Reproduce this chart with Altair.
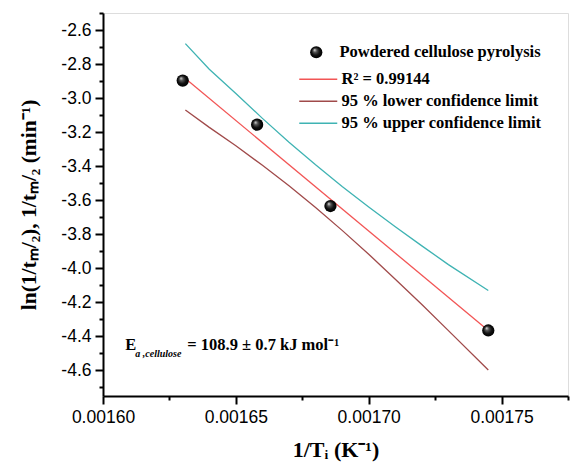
import altair as alt
import pandas as pd

# ---- data ----
pt_x = [0.001630, 0.001658, 0.0016856, 0.001745]
pt_y = [-2.897, -3.156, -3.634, -4.365]

fit_x = [0.001631, 0.001745]
fit_y = [-2.885, -4.365]

band_x = [0.001631, 0.00164, 0.00165, 0.00166, 0.00167, 0.00168, 0.00169,
          0.00170, 0.00171, 0.00172, 0.00173, 0.001745]
upper_y = [-2.680, -2.830, -2.973, -3.119, -3.259, -3.392, -3.519,
           -3.640, -3.756, -3.868, -3.978, -4.130]
lower_y = [-3.070, -3.172, -3.280, -3.395, -3.515, -3.643, -3.777,
           -3.917, -4.064, -4.213, -4.366, -4.597]

series_pts = "Powdered cellulose pyrolysis"
series_lines = ["R² = 0.99144", "95 % lower confidence limit", "95 % upper confidence limit"]
line_colors = ["#f25555", "#a04a4a", "#3fb3b3"]

y_ticks = [round(-4.7 + 0.1 * i, 1) for i in range(23)]
x_ticks = [0.0016 + 0.000025 * i for i in range(8)]

# ---- tables ----
pts = pd.DataFrame({"x": pt_x, "y": pt_y, "series": series_pts})
lines = pd.concat([
    pd.DataFrame({"x": fit_x, "y": fit_y, "series": series_lines[0], "o": range(len(fit_x))}),
    pd.DataFrame({"x": band_x, "y": lower_y, "series": series_lines[1], "o": range(len(band_x))}),
    pd.DataFrame({"x": band_x, "y": upper_y, "series": series_lines[2], "o": range(len(band_x))}),
])

serif = "Liberation Serif"
sans = "Liberation Sans"

xscale = alt.Scale(domain=[0.0016, 0.001775], nice=False, zero=False)
yscale = alt.Scale(domain=[-4.75, -2.5], nice=False, zero=False)

x_axis = alt.Axis(
    values=x_ticks, tickCount=100,
    labelExpr="round(datum.value*40000) % 2 == 0 ? format(datum.value, '.5f') : ''",
    tickSize={"condition": {"test": "round(datum.value*40000) % 2 == 0", "value": 8}, "value": 4},
    title="1/Tᵢ (K⁻¹)",
    titleFont=serif, titleFontSize=22, titleFontWeight="bold", titlePadding=14,
    labelFont=sans, labelFontSize=17.5, labelPadding=4, labelColor="black",
    grid=False, domainColor="black", domainWidth=2, tickColor="black", tickWidth=2,
    labelFlush=False, labelOverlap=False, titleColor="black",
)
y_axis = alt.Axis(
    values=y_ticks, tickCount=100,
    labelExpr="abs(round(datum.value*10)) % 2 == 0 ? replace(format(datum.value, '.1f'), '\u2212', '-') : ''",
    tickSize={"condition": {"test": "abs(round(datum.value*10)) % 2 == 0", "value": 8}, "value": 4},
    title="ln(1/tₘ/₂), 1/tₘ/₂ (min⁻¹)",
    titleFont=serif, titleFontSize=21.5, titleFontWeight="bold", titlePadding=20,
    labelFont=sans, labelFontSize=17.5, labelPadding=4, labelColor="black",
    grid=False, domainColor="black", domainWidth=2, tickColor="black", tickWidth=2,
    labelFlush=False, labelOverlap=False, titleColor="black",
)

line_layer = alt.Chart(lines).mark_line(strokeWidth=1.3, clip=False).encode(
    x=alt.X("x:Q", scale=xscale, axis=x_axis),
    y=alt.Y("y:Q", scale=yscale, axis=y_axis),
    color=alt.Color(
        "series:N",
        scale=alt.Scale(domain=series_lines, range=line_colors),
        legend=alt.Legend(
            title=None, orient="none", legendX=207, legendY=58,
            symbolType="M-3.8,0H3.8", symbolSize=100, symbolStrokeWidth=1.5,
            labelFont=serif, labelFontSize=16.5, labelFontWeight="bold", labelColor="black",
            labelOffset=15, rowPadding=5, padding=0, labelLimit=400,
        ),
        sort=series_lines,
    ),
    order="o:Q",
)

sphere = alt.Gradient(
    gradient="radial",
    stops=[
        alt.GradientStop(color="#e8e8e8", offset=0),
        alt.GradientStop(color="#555555", offset=0.3),
        alt.GradientStop(color="#111111", offset=0.65),
        alt.GradientStop(color="#000000", offset=1),
    ],
    x1=0.35, y1=0.3, r1=0, x2=0.5, y2=0.5, r2=0.5,
)

pt_layer = alt.Chart(pts).mark_point(filled=True, fill=sphere, opacity=1, size=150, strokeWidth=0).encode(
    x="x:Q",
    y="y:Q",
    shape=alt.Shape(
        "series:N",
        scale=alt.Scale(range=["circle"]),
        legend=alt.Legend(
            title=None, orient="none", legendX=205, legendY=31,
            symbolFillColor="black", symbolStrokeColor="black", symbolSize=150,
            labelFont=serif, labelFontSize=16.5, labelFontWeight="bold", labelColor="black",
            labelOffset=15, padding=0, labelLimit=400,
        ),
    ),
)

ann = pd.DataFrame({"x": [0.0016084], "y": [-4.453]})
base_ann = alt.Chart(ann).encode(x="x:Q", y="y:Q")
t_E = base_ann.mark_text(text="E", font=serif, fontSize=16.5, fontWeight="bold",
                         align="left", baseline="middle", color="black")
t_sub = base_ann.mark_text(text="a ,cellulose", font=serif, fontSize=10, fontWeight="bold",
                           fontStyle="italic", align="left", baseline="middle", dx=10, dy=9,
                           color="black")
t_rest = base_ann.mark_text(text="= 108.9 ± 0.7 kJ mol⁻¹", font=serif, fontSize=16.5,
                            fontWeight="bold", align="left", baseline="middle", dx=62,
                            color="black")

chart = alt.layer(line_layer, pt_layer, t_E, t_sub, t_rest).properties(
    width=465, height=383,
    autosize=alt.AutoSizeParams(type="none"),
    padding={"left": 103, "top": 13, "right": 4, "bottom": 69},
).configure_view(stroke=None).configure(background="white")

chart.save("out.html", embed_options={"renderer": "svg", "actions": False})
